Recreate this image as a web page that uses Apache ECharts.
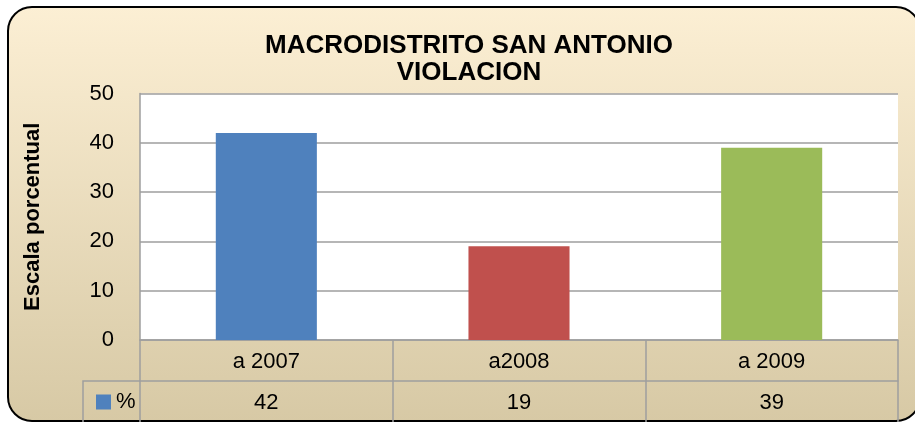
<!DOCTYPE html>
<html>
<head>
<meta charset="utf-8">
<script src="https://cdn.jsdelivr.net/npm/echarts@6/dist/echarts.min.js"></script>
<style>
  html, body { margin: 0; padding: 0; background: #fff; }
  #chart { width: 915px; height: 422px; }
</style>
</head>
<body>
<div id="chart"></div>
<script>
// datos del grafico
const categories = ['a 2007', 'a2008', 'a 2009']
const percent = [42, 19, 39]
const barColors = ['#4F81BD', '#C0504D', '#9BBB59']
const yTicks = [0, 10, 20, 30, 40, 50]

const gridColor = '#9E9E9E'
const font = 'Liberation Sans, Arial, sans-serif'

const myChart = echarts.init(document.getElementById('chart'))

const option = {
  animation: false,
  textStyle: { fontFamily: font },
  title: {
    text: 'MACRODISTRITO SAN ANTONIO\nVIOLACION',
    left: 464,
    top: 27,
    textAlign: 'center',
    textStyle: {
      fontSize: 26,
      fontWeight: 'bold',
      lineHeight: 27,
      color: '#000',
      fontFamily: font
    }
  },
  legend: {
    data: ['%'],
    left: 91,
    top: 386,
    icon: 'rect',
    itemWidth: 15,
    itemHeight: 15,
    itemGap: 6,
    textStyle: { fontSize: 22, color: '#000', fontFamily: font }
  },
  grid: {
    left: 140,
    right: 17,
    top: 93.5,
    bottom: 82,
    show: true,
    backgroundColor: '#fff',
    borderWidth: 0
  },
  graphic: [
    {
      // fondo del marco
      type: 'rect',
      z: -10,
      silent: true,
      shape: { x: 8, y: 7, width: 912, height: 414, r: 24 },
      style: {
        fill: new echarts.graphic.LinearGradient(0, 0, 0, 1, [
          { offset: 0, color: '#FCEFD4' },
          { offset: 1, color: '#D7C9A5' }
        ]),
        stroke: '#000',
        lineWidth: 2
      }
    },
    {
      // celda de la leyenda en la tabla
      type: 'polyline',
      z: 10,
      silent: true,
      shape: { points: [[83, 424], [83, 381], [140, 381]] },
      style: { stroke: gridColor, lineWidth: 1.5, fill: null }
    }
  ],
  xAxis: [
    {
      type: 'category',
      data: categories,
      position: 'bottom',
      axisLine: { lineStyle: { color: gridColor, width: 1.5 } },
      axisTick: { show: true, length: 84, lineStyle: { color: gridColor, width: 1.5 } },
      axisLabel: { fontSize: 22, color: '#000', margin: 11, fontFamily: font }
    },
    {
      type: 'category',
      data: categories,
      position: 'bottom',
      offset: 41,
      axisLine: { lineStyle: { color: gridColor, width: 1.5 } },
      axisTick: { show: false },
      axisLabel: {
        fontSize: 22,
        color: '#000',
        margin: 11,
        fontFamily: font,
        formatter: (v, i) => String(percent[i])
      }
    }
  ],
  yAxis: {
    type: 'value',
    min: yTicks[0],
    max: yTicks[yTicks.length - 1],
    interval: 10,
    name: 'Escala porcentual',
    nameLocation: 'middle',
    nameRotate: 90,
    nameGap: 96,
    nameTextStyle: { fontSize: 22, fontWeight: 'bold', color: '#000', fontFamily: font },
    axisLine: { show: true, lineStyle: { color: gridColor, width: 1.5 } },
    axisTick: { show: false },
    axisLabel: { fontSize: 22, color: '#000', margin: 26, fontFamily: font },
    splitLine: { lineStyle: { color: gridColor, width: 1.5 } }
  },
  series: [
    {
      name: '%',
      type: 'bar',
      xAxisIndex: 0,
      barWidth: '40%',
      itemStyle: { color: barColors[0] },
      data: percent.map((v, i) => ({ value: v, itemStyle: { color: barColors[i] } }))
    }
  ]
}

myChart.setOption(option)
</script>
</body>
</html>
